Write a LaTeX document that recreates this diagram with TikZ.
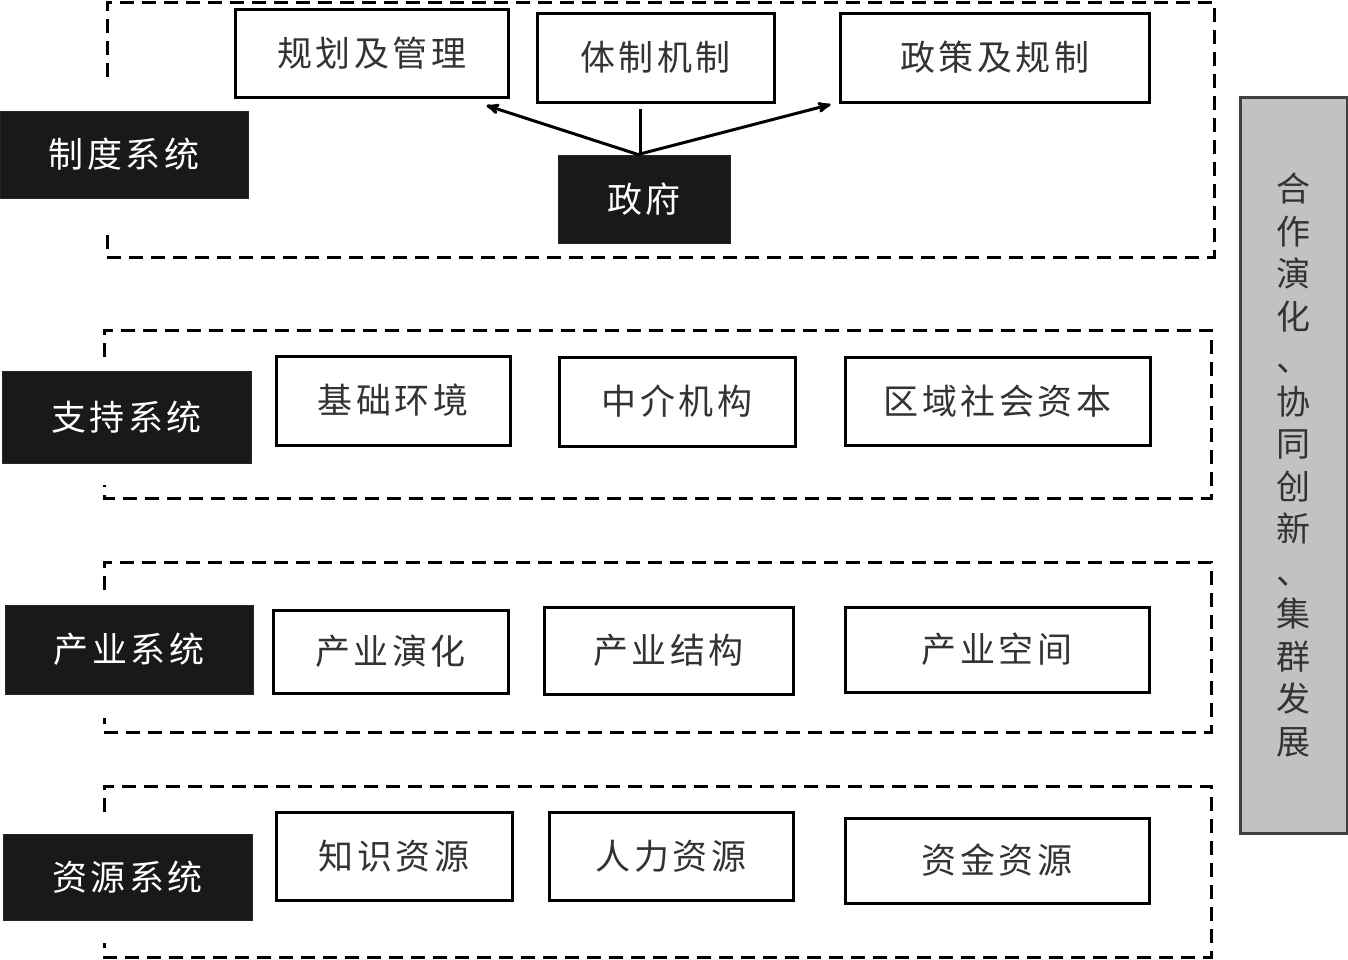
\documentclass[tikz,border=0pt]{standalone}
\usepackage{fontspec}
\newfontfamily\cjk[LetterSpace=10]{Noto Sans CJK SC}
\newfontfamily\cjkpanel{Noto Sans CJK SC}
\usetikzlibrary{arrows,positioning}
\definecolor{boxtext}{HTML}{333333}
\definecolor{panelgray}{HTML}{C2C2C2}
\tikzstyle{system}=[rectangle,draw=black!85,fill=black!90,text=white,line width=1pt,inner sep=0pt,minimum width=248pt,minimum height=87pt,font=\cjk\fontsize{35}{40}\selectfont]
\tikzstyle{item}=[rectangle,draw=black,fill=white,text=boxtext,line width=3pt,inner sep=0pt,minimum height=88pt,font=\cjk\fontsize{35}{40}\selectfont]
\tikzstyle{actor}=[system,minimum width=172pt,minimum height=88pt]
\tikzstyle{panel}=[rectangle,draw=black!75,fill=panelgray,text=boxtext,line width=3pt,inner sep=0pt,minimum width=107pt,minimum height=736pt,align=center,font=\cjkpanel\fontsize{34}{42.5}\selectfont]
\tikzstyle{layer}=[line width=3pt,dash pattern=on 14pt off 8pt]
\tikzstyle{guides}=[-stealth',line width=3pt]

\begin{document}
\begin{tikzpicture}[x=1pt,y=-1pt]
\useasboundingbox (0,0) rectangle (1348,959) ;

% layers
\draw [layer] (107,77) -- (107,2) -- (1214,2) -- (1214,257) -- (107,257) -- (107,232) ;
\draw [layer] (104,357) -- (104,330) -- (1211,330) -- (1211,498) -- (104,498) -- (104,485) ;
\draw [layer] (104,590) -- (104,562) -- (1211,562) -- (1211,732) -- (104,732) -- (104,718) ;
\draw [layer] (104,812) -- (104,786) -- (1211,786) -- (1211,957) -- (104,957) -- (104,943) ;

% institution
\node (inst) [system] at (124,154.5) {制度系统} ;
\node (plan) [item,minimum width=273pt] at (371.5,53) {规划及管理} ;
\node (mech) [item,minimum width=237pt,minimum height=89pt] at (655.5,57.5) {体制机制} ;
\node (policy) [item,minimum width=309pt,minimum height=89pt] at (994.5,57.5) {政策及规制} ;
\node (gov) [actor] at (644,199) {政府} ;

\draw [guides] ([xshift=-6pt]gov.north) -- ([xshift=-23pt,yshift=-7pt]plan.south east) ;
\draw [guides] ([xshift=-6pt]gov.north) -- ([xshift=-8pt,yshift=-1pt]policy.south west) ;
\draw [line width=3pt] ([xshift=-4pt]gov.north) -- ([xshift=-15.5pt,yshift=-5pt]mech.south) ;

% support
\node (supp) [system,minimum width=249pt,minimum height=92pt] at (126.5,417) {支持系统} ;
\node (infra) [item,minimum width=234pt,minimum height=89pt] at (393,400.5) {基础环境} ;
\node (agency) [item,minimum width=236pt,minimum height=89pt] at (677,401.5) {中介机构} ;
\node (capital) [item,minimum width=305pt] at (997.5,401) {区域社会资本} ;

% industry
\node (indus) [system,minimum height=89pt] at (129,649.5) {产业系统} ;
\node (evol) [item,minimum width=235pt,minimum height=83pt] at (390.5,651.5) {产业演化} ;
\node (struct) [item,minimum width=249pt,minimum height=87pt] at (668.5,650.5) {产业结构} ;
\node (space) [item,minimum width=304pt,minimum height=85pt] at (997,649.5) {产业空间} ;

% resources
\node (res) [system,minimum width=249pt,minimum height=86pt] at (127.5,877) {资源系统} ;
\node (know) [item,minimum width=236pt] at (394,856) {知识资源} ;
\node (human) [item,minimum width=244pt] at (671,856) {人力资源} ;
\node (fund) [item,minimum width=304pt,minimum height=85pt] at (997,860.5) {资金资源} ;

% side
\node (coop) [panel] at (1293.5,465) {合\\作\\演\\化\\、\\协\\同\\创\\新\\、\\集\\群\\发\\展} ;

\end{tikzpicture}
\end{document}
